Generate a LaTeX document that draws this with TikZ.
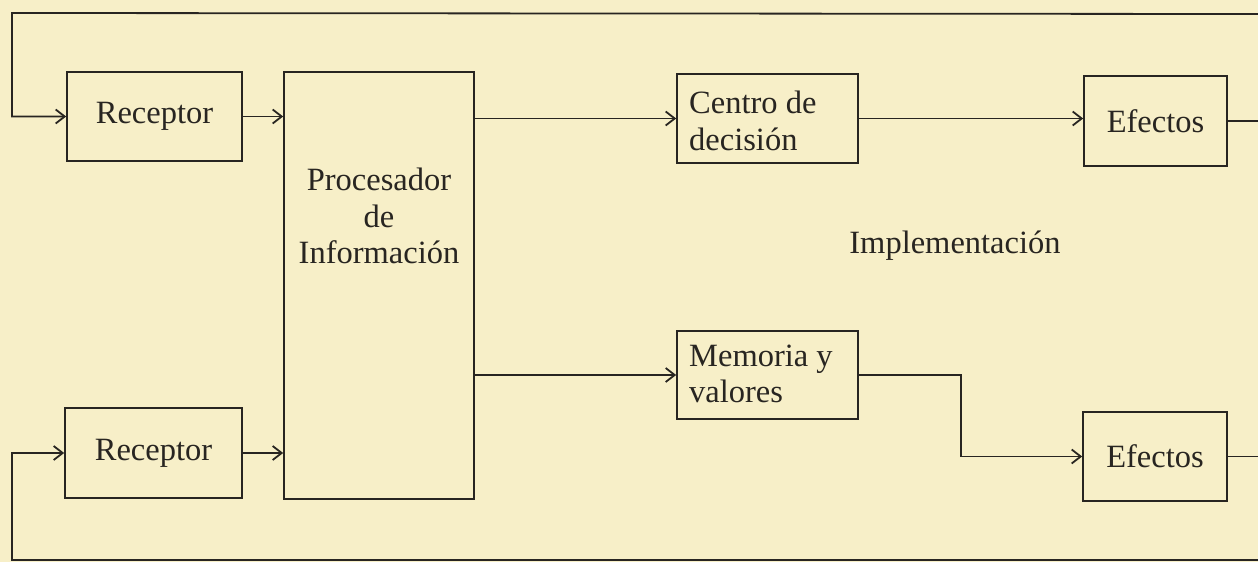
\documentclass[tikz,border=0pt]{standalone}
\usepackage{fontspec}
\setmainfont{Liberation Serif}
\usetikzlibrary{arrows.meta,calc}
\definecolor{paper}{RGB}{247,239,200}
\definecolor{ink}{RGB}{40,37,33}
\tikzset{
  box/.style={draw=ink,line width=1.7pt,rectangle,inner sep=0pt},
  lbl/.style={text=ink,font=\fontsize{32.5}{36.5}\selectfont,inner sep=0pt},
  conn/.style={draw=ink,line width=1.8pt},
  arr/.style={conn,-{Straight Barb[length=9pt,width=14pt,line width=1.8pt]}}
}
\begin{document}
\begin{tikzpicture}[x=1pt,y=-1pt]
\fill[paper] (0,0) rectangle (1258,562);
\useasboundingbox (0,0) rectangle (1258,562);

% boxes
\node[box,minimum width=175pt,minimum height=89pt] (rt) at (154.5,116.5) {};
\node[lbl] at (rt.center) {Receptor};
\node[box,minimum width=177pt,minimum height=90pt] (rb) at (153.5,453) {};
\node[lbl] at (rb.center) {Receptor};
\node[box,minimum width=190pt,minimum height=427pt] (proc) at (379,285.5) {};
\node[lbl,align=center] at (379,216) {Procesador\\de\\Información};
\node[box,minimum width=181pt,minimum height=89pt] (cen) at (767.5,118.5) {};
\node[lbl,align=left,anchor=west] at (689,121) {Centro de\\decisión};
\node[box,minimum width=181pt,minimum height=88pt] (mem) at (767.5,375) {};
\node[lbl,align=left,anchor=west] at (689,374) {Memoria y\\valores};
\node[box,minimum width=143pt,minimum height=90pt] (et) at (1155.5,121) {};
\node[lbl] at (et.center) {Efectos};
\node[box,minimum width=144pt,minimum height=89pt] (eb) at (1155,456.5) {};
\node[lbl] at (eb.center) {Efectos};
\node[lbl] (impl) at (955,246) {Implementación};

% coordinates
\coordinate (fbtop) at (12,13);
\coordinate (topR) at (1258,14);
\coordinate (fbbot) at (12,560);
\coordinate (botR) at (1258,560);
\coordinate (edgeR) at (1258,0);
\coordinate (elbow) at (961,0);

% connectors
\draw[arr] (topR) -- (fbtop) |- (rt.west);
\draw[arr] (botR) -- (fbbot) |- (rb.west);
\draw[arr] (rt.east) -- (rt.east -| proc.west);
\draw[arr] (rb.east) -- (rb.east -| proc.west);
\draw[arr] (proc.east |- cen.west) -- (cen.west);
\draw[arr] (proc.east |- mem.west) -- (mem.west);
\draw[arr] (cen.east) -- (cen.east -| et.west);
\draw[arr] (mem.east) -- (mem.east -| elbow) |- (eb.west);
\draw[conn] (et.east) -- (et.east -| edgeR);
\draw[conn] (eb.east) -- (eb.east -| edgeR);
\end{tikzpicture}
\end{document}
